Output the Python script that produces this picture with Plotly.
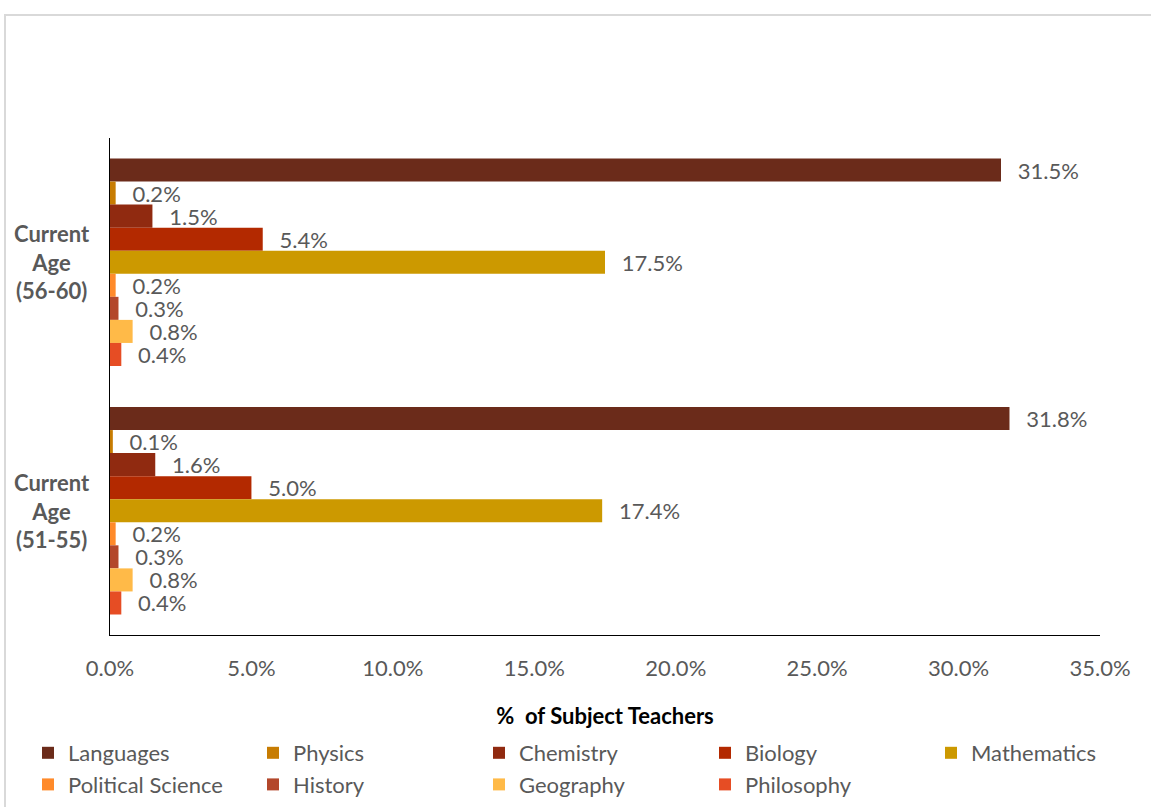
import plotly.graph_objects as go

# Age groups (top to bottom) and subjects (top to bottom within each group)
age_groups = ["Current<br>Age<br>(56-60)", "Current<br>Age<br>(51-55)"]
subjects = ["Languages", "Physics", "Chemistry", "Biology", "Mathematics",
            "Political Science", "History", "Geography", "Philosophy"]

# Share of subject teachers (%) per age group, in age_groups order
languages = [31.5, 31.8]
physics = [0.2, 0.1]
chemistry = [1.5, 1.6]
biology = [5.4, 5.0]
mathematics = [17.5, 17.4]
political_science = [0.2, 0.2]
history = [0.3, 0.3]
geography = [0.8, 0.8]
philosophy = [0.4, 0.4]

series = [languages, physics, chemistry, biology, mathematics,
          political_science, history, geography, philosophy]
colors = ["#6B2B1A", "#C77C02", "#902A10", "#B32900", "#CC9900",
          "#FF8A2A", "#B3472B", "#FFBA48", "#E64D24"]

FONT = "Lato, Calibri, Carlito, sans-serif"
GRAY = "#595959"
FS = 22

W, H = 1151, 807
L, R, T, B = 110, 51, 138, 172
pw, ph = W - L - R, H - T - B

# The key is laid out as a 5-column grid, one small vertical legend per column
N_COLS = 5
legend_ids = ["legend"] + [f"legend{i}" for i in range(2, N_COLS + 1)]

fig = go.Figure()
for i, (name, vals, col) in enumerate(zip(subjects, series, colors)):
    fig.add_trace(go.Bar(
        y=age_groups, x=vals, name=name, orientation="h",
        marker=dict(color=col, line=dict(width=0)),
        text=[f"\u2002\u2009{v:.1f}%" for v in vals], textposition="outside",
        constraintext="none",
        textfont=dict(family=FONT, size=FS, color=GRAY),
        cliponaxis=False, hoverinfo="skip",
        legend=legend_ids[i % N_COLS],
    ))

# Centred, bold category labels to the left of the value axis
annotations = [dict(
    x=(52 - L) / pw, xref="paper", y=g, yref="y",
    text=f"<b>{g}</b>", showarrow=False, align="center",
    xanchor="center", yanchor="middle",
    font=dict(family=FONT, size=FS, color=GRAY),
) for g in age_groups]

col_left = [28, 253, 479, 705, 931]
legend_layouts = {
    lid: dict(
        orientation="v", xref="container", x=cx / W, xanchor="left",
        yref="container", y=1 - 732 / H, yanchor="top",
        font=dict(family=FONT, size=FS, color=GRAY),
        traceorder="normal", itemwidth=30, tracegroupgap=0,
        bgcolor="rgba(0,0,0,0)",
    )
    for lid, cx in zip(legend_ids, col_left)
}

fig.update_layout(
    width=W, height=H,
    margin=dict(l=L, r=R, t=T, b=B, autoexpand=False),
    paper_bgcolor="white", plot_bgcolor="white",
    barmode="group", bargap=0.165, bargroupgap=0,
    font=dict(family=FONT, color=GRAY),
    showlegend=True,
    **legend_layouts,
    xaxis=dict(
        range=[0, 35], dtick=5, tickformat=".1f", ticksuffix="%",
        showgrid=False, zeroline=False,
        showline=True, linecolor="black", linewidth=1,
        ticks="", tickfont=dict(family=FONT, size=FS, color=GRAY),
        ticklabelstandoff=14,
        title=dict(text="<b>%  of Subject Teachers</b>", standoff=28,
                   font=dict(family=FONT, size=FS, color="black")),
    ),
    yaxis=dict(
        autorange="reversed", showgrid=False, zeroline=False,
        showline=True, linecolor="black", linewidth=1, ticks="",
        showticklabels=False,
    ),
    annotations=annotations,
    shapes=[dict(
        type="rect", xref="paper", yref="paper",
        x0=-(L - 5) / pw, x1=1 + (R + 40) / pw,
        y0=-(B + 40) / ph, y1=1 + (T - 15) / ph,
        line=dict(color="#D9D9D9", width=2), layer="below",
    )],
)

fig.write_html("out.html")
